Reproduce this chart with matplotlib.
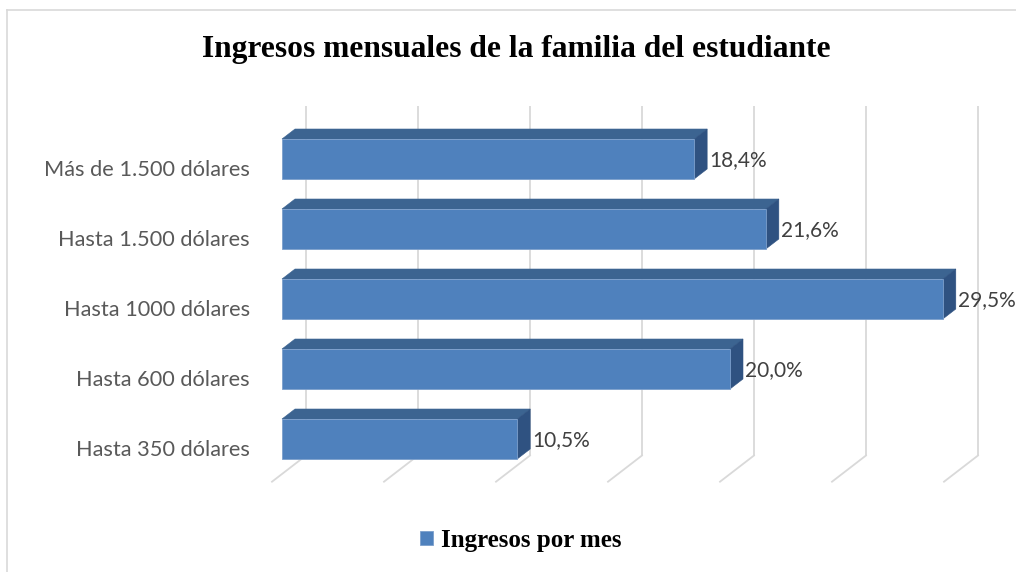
import matplotlib
matplotlib.use('Agg')
import matplotlib.pyplot as plt
from matplotlib.patches import Polygon
from matplotlib.lines import Line2D

# datos
categorias = ['Hasta 350 dólares', 'Hasta 600 dólares', 'Hasta 1000 dólares',
              'Hasta 1.500 dólares', 'Más de 1.500 dólares']
ingresos = [10.5, 20.0, 29.5, 21.6, 18.4]
etiquetas = ['10,5%', '20,0%', '29,5%', '21,6%', '18,4%']
ticks_x = [0, 5, 10, 15, 20, 25, 30]

titulo = 'Ingresos mensuales de la familia del estudiante'
serie = 'Ingresos por mes'

W, H = 1016, 572
fig = plt.figure(figsize=(W / 100, H / 100), dpi=100)

# ejes en pixeles: 0% en x=282, 22.4 px por %, 70 px por categoria
xmax = 32
px_x = 22.4
px_y = 70.0
ax_left = 282
ax_w = xmax * px_x
ax_top = 124
ax_h = 5 * px_y
ax = fig.add_axes([ax_left / W, 1 - (ax_top + ax_h) / H, ax_w / W, ax_h / H])
ax.set_xlim(0, xmax)
ax.set_ylim(-0.5, 4.5)
for s in ax.spines.values():
    s.set_visible(False)
ax.set_xticks([])

frente = '#4F81BD'
arriba = '#3C6491'
lado = '#2F5281'
gris = '#D9D9D9'

# profundidad (oblicua)
ddx = 13 / px_x
ddy = 10 / px_y
fondo_x, fondo_y = 24 / px_x, 18.5 / px_y
piso_x, piso_y = -10 / px_x, -7.7 / px_y

# pared del fondo y piso
for v in ticks_x:
    ax.plot([v + fondo_x, v + fondo_x], [-0.5 + fondo_y, 4.5 + fondo_y],
            color=gris, lw=1.3, zorder=0, clip_on=False, solid_capstyle='butt')
    ax.plot([v + fondo_x, v + piso_x], [-0.5 + fondo_y, -0.5 + piso_y],
            color=gris, lw=1.3, zorder=0, clip_on=False)

h = 40 / px_y
pos = list(range(len(categorias)))
ax.barh(pos, ingresos, height=h, color=frente, edgecolor='#7C9FCC', linewidth=0.6,
        zorder=3, label=serie)
for y, v, lab in zip(pos, ingresos, etiquetas):
    top = y + h / 2
    bot = y - h / 2
    ax.add_patch(Polygon([(0, top), (v, top), (v + ddx, top + ddy), (ddx, top + ddy)],
                         closed=True, facecolor=arriba, edgecolor=arriba, lw=0.4,
                         zorder=2, clip_on=False))
    ax.add_patch(Polygon([(v, bot), (v + ddx, bot + ddy), (v + ddx, top + ddy), (v, top)],
                         closed=True, facecolor=lado, edgecolor=lado, lw=0.4,
                         zorder=2, clip_on=False))
    ax.text(v + ddx + 2 / px_x, y - 1.5 / px_y, lab, ha='left', va='center',
            fontsize=15, family='Lato', color='#404040', clip_on=False)

ax.set_yticks([p - 9 / px_y for p in pos])
ax.set_yticklabels(categorias, fontsize=15.7, family='Lato', color='#595959')
ax.tick_params(axis='y', length=0, pad=23)

fig.text(516 / W, 1 - 49 / H, titulo, ha='center', va='center', fontsize=22.7,
         family='Liberation Serif', fontweight='bold', color='black')

fig.legend(loc='center', bbox_to_anchor=(521 / W, 1 - 540 / H), frameon=False,
           handlelength=0.5, handleheight=0.5, handletextpad=0.35,
           prop={'family': 'Liberation Serif', 'weight': 'bold', 'size': 18})

# borde del grafico (solo arriba e izquierda visibles)
fig.add_artist(Line2D([7 / W, 1], [1 - 10 / H, 1 - 10 / H], color=gris, lw=1.2))
fig.add_artist(Line2D([7 / W, 7 / W], [0, 1 - 10 / H], color=gris, lw=1.2))

fig.savefig('out.png', dpi=100)
